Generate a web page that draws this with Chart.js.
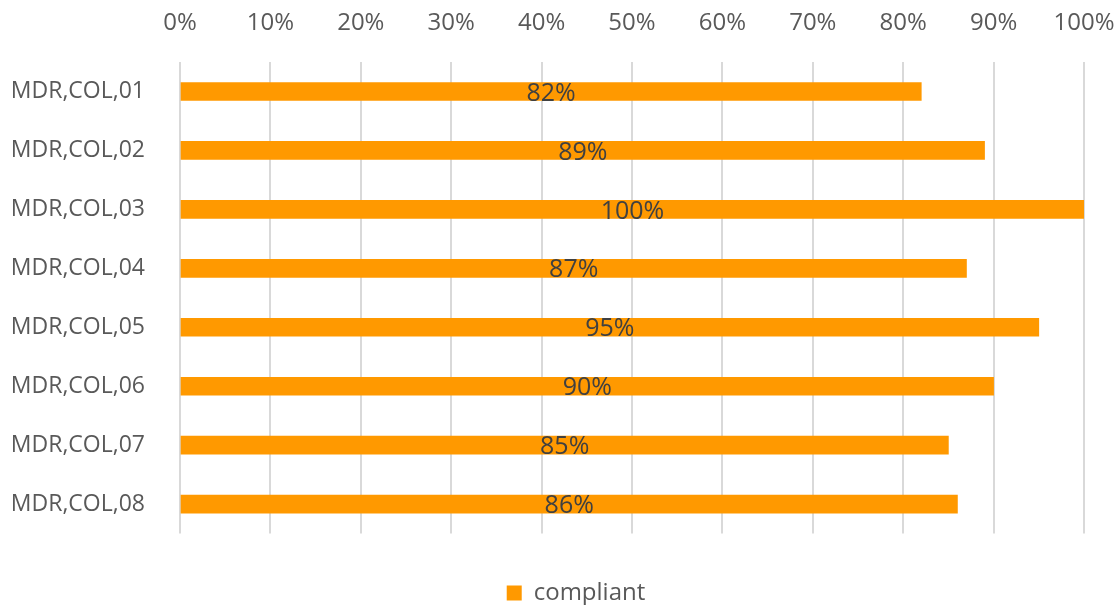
<!DOCTYPE html>
<html>
<head>
<meta charset="utf-8">
<script src="https://cdn.jsdelivr.net/npm/chart.js@4/dist/chart.umd.min.js"></script>
<style>
    body { margin: 0; background: #fff; }
    #wrap { width: 1118px; height: 605px; }
</style>
</head>
<body>
<div id="wrap"><canvas id="chart" width="1118" height="605"></canvas></div>
<script>
const categories = ["MDR,COL,01", "MDR,COL,02", "MDR,COL,03", "MDR,COL,04",
                    "MDR,COL,05", "MDR,COL,06", "MDR,COL,07", "MDR,COL,08"];
const compliant = [82, 89, 100, 87, 95, 90, 85, 86];
const seriesName = "compliant";

const FONT = "'Open Sans', sans-serif";

// value labels in the middle of each bar
const barLabels = {
    id: 'barLabels',
    afterDatasetsDraw(chart) {
        const ctx = chart.ctx;
        ctx.save();
        ctx.font = "25px " + FONT;
        ctx.fillStyle = "#404040";
        ctx.textAlign = "center";
        ctx.textBaseline = "middle";
        chart.getDatasetMeta(0).data.forEach((bar, i) => {
            const mid = (bar.x + bar.base) / 2;
            ctx.fillText(compliant[i] + "%", mid, bar.y + 2);
        });
        ctx.restore();
    }
};

// nudge the legend a little right of centre
const legendShift = {
    id: 'legendShift',
    afterLayout(chart) {
        const lg = chart.legend;
        if (!lg || lg._shifted) return;
        const draw = lg.draw;
        lg.draw = function () {
            this.ctx.save();
            this.ctx.translate(17, 0);
            draw.apply(this, arguments);
            this.ctx.restore();
        };
        lg._shifted = true;
    }
};

new Chart(document.getElementById("chart"), {
    type: 'bar',
    data: {
        labels: categories,
        datasets: [{
            label: seriesName,
            data: compliant,
            backgroundColor: '#FF9900',
            borderWidth: 0,
            barThickness: 18
        }]
    },
    options: {
        indexAxis: 'y',
        responsive: false,
        animation: false,
        layout: { padding: { top: 0, right: 0, bottom: -10, left: 0 } },
        scales: {
            x: {
                position: 'top',
                min: 0,
                max: 100,
                ticks: {
                    stepSize: 10,
                    padding: 24,
                    color: '#595959',
                    font: { family: FONT, size: 24 },
                    callback: v => v + '%'
                },
                grid: { color: '#d9d9d9', lineWidth: 2, drawTicks: false },
                border: { display: false },
                afterFit(scale) {
                    scale.height = 62;
                    scale.paddingLeft = 0;
                    scale.paddingRight = 34;
                }
            },
            y: {
                ticks: {
                    padding: 27,
                    color: '#595959',
                    font: { family: FONT, size: 23 }
                },
                grid: { display: false },
                border: { display: false },
                afterFit(scale) { scale.width = 180; }
            }
        },
        plugins: {
            legend: {
                position: 'bottom',
                title: { display: true, text: '', padding: { top: 16, bottom: 14 } },
                labels: {
                    boxWidth: 15,
                    boxHeight: 15,
                    padding: 3,
                    color: '#595959',
                    font: { family: FONT, size: 24 }
                }
            },
            tooltip: { enabled: false }
        }
    },
    plugins: [barLabels, legendShift]
});
</script>
</body>
</html>
